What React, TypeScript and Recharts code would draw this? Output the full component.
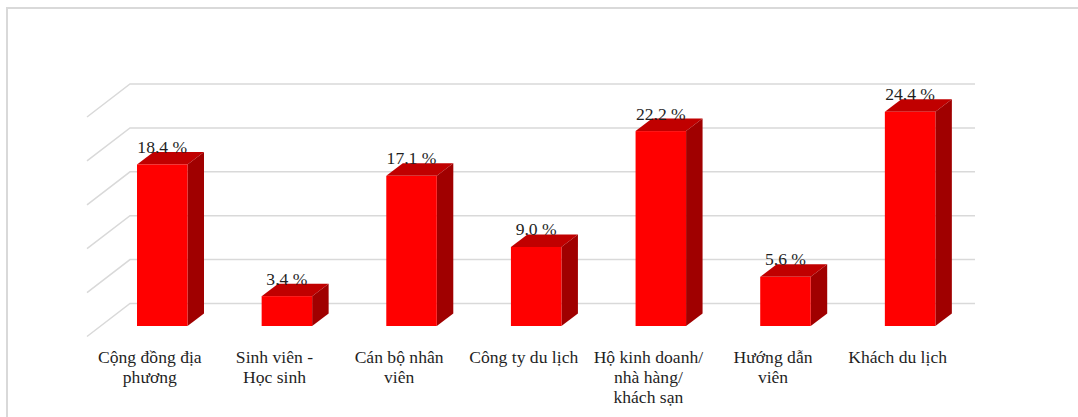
import React from 'react';
import { Bar, BarChart, CartesianGrid, LabelList, XAxis, YAxis } from 'recharts';

const categories = [
  'Cộng đồng địa\nphương',
  'Sinh viên -\nHọc sinh',
  'Cán bộ nhân\nviên',
  'Công ty du lịch',
  'Hộ kinh doanh/\nnhà hàng/\nkhách sạn',
  'Hướng dẫn\nviên',
  'Khách du lịch',
];
const shares = [18.4, 3.4, 17.1, 9.0, 22.2, 5.6, 24.4];
const valueTicks = [0, 5, 10, 15, 20, 25];

const data = categories.map((name, i) => ({ name, share: shares[i] }));

const FONT = '"Liberation Serif", "Times New Roman", serif';
const GRID = '#D9D9D9';
const TEXT = '#1F1F1F';
const FONT_SIZE = 17.6;

// depth of the extruded bars and of the back wall behind them
const BAR_DX = 16.5;
const BAR_DY = 12.5;
const WALL_DX = 30;
const WALL_DY = 22.5;
const SIDE_DX = 43;
const SIDE_DY = 33;

const Bar3D = ({ x, y, width, height }: any) => {
  const r = x + width;
  const b = y + height;
  return (
    <g>
      <polygon
        points={`${x},${y} ${x + BAR_DX},${y - BAR_DY} ${r + BAR_DX},${y - BAR_DY} ${r},${y}`}
        fill="#C00000"
      />
      <polygon
        points={`${r},${y} ${r + BAR_DX},${y - BAR_DY} ${r + BAR_DX},${b - BAR_DY} ${r},${b}`}
        fill="#A00000"
      />
      <rect x={x} y={y} width={width} height={height} fill="#FF0000" />
    </g>
  );
};

// each gridline runs along the back wall and then down the side wall
const WallLine = ({ x1, x2, y1 }: any) => {
  const y = y1 - WALL_DY;
  const left = x1 + WALL_DX;
  return (
    <polyline
      points={`${left - SIDE_DX},${y + SIDE_DY} ${left},${y} ${x2 + 2.5},${y}`}
      fill="none"
      stroke={GRID}
      strokeWidth={1.5}
    />
  );
};

const CategoryTick = ({ x, payload }: any) => (
  <text x={x - 12.5} y={363} textAnchor="middle" fontFamily={FONT} fontSize={FONT_SIZE} fill={TEXT}>
    {String(payload.value)
      .split('\n')
      .map((line, i) => (
        <tspan key={line} x={x - 12.5} dy={i === 0 ? 0 : 20}>
          {line}
        </tspan>
      ))}
  </text>
);

const ShareLabel = ({ x, y, width, value }: any) => (
  <text
    x={x + width / 2}
    y={y - 11.5}
    textAnchor="middle"
    fontFamily={FONT}
    fontSize={FONT_SIZE}
    fill={TEXT}
  >
    {`${Number(value).toFixed(1)} %`}
  </text>
);

export default function App() {
  return (
    <div
      style={{
        position: 'absolute',
        left: 0,
        top: 0,
        width: 1078,
        height: 417,
        background: '#fff',
        overflow: 'hidden',
      }}
    >
      <div
        style={{
          position: 'absolute',
          left: 6,
          top: 7,
          width: 1072,
          height: 410,
          boxSizing: 'border-box',
          borderLeft: `2px solid ${GRID}`,
          borderTop: `2px solid ${GRID}`,
        }}
      />
      <BarChart
        width={1078}
        height={417}
        data={data}
        margin={{ top: 106.5, right: 105.5, bottom: 0, left: 100 }}
        barCategoryGap={0}
        style={{ position: 'absolute', left: 0, top: 0 }}
      >
        <CartesianGrid vertical={false} horizontal={(props: any) => <WallLine key={props.y1} {...props} />} />
        <XAxis
          dataKey="name"
          axisLine={false}
          tickLine={false}
          interval={0}
          height={91}
          tick={<CategoryTick />}
        />
        <YAxis hide domain={[0, 25]} ticks={valueTicks} width={0} />
        <Bar dataKey="share" barSize={50.5} shape={<Bar3D />} isAnimationActive={false}>
          <LabelList dataKey="share" content={<ShareLabel />} />
        </Bar>
      </BarChart>
    </div>
  );
}
